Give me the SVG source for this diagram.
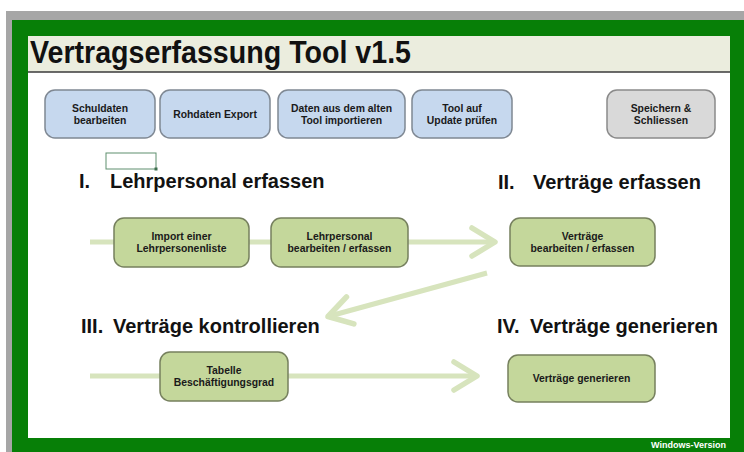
<svg xmlns="http://www.w3.org/2000/svg" width="744" height="452" viewBox="0 0 744 452">
  <style>
    .btn-blue { fill: #C6D8EE; stroke: #7F8893; stroke-width: 1.5; }
    .btn-gray { fill: #D9D9D9; stroke: #8A8A8A; stroke-width: 1.5; }
    .step { fill: #C4D79B; stroke: #76805E; stroke-width: 1.5; }
    .lbl { font-family: "Liberation Sans", Arial, sans-serif; font-weight: bold; font-size: 10.4px; fill: #1A1A1A; text-anchor: middle; }
    .head { font-family: "Liberation Sans", Arial, sans-serif; font-weight: bold; font-size: 20px; fill: #121212; }
    .flow { fill: none; stroke: #D7E4BD; stroke-width: 5; }
  </style>
  <defs>
    <marker id="chevron" markerUnits="userSpaceOnUse" markerWidth="40" markerHeight="40" refX="24" refY="14" orient="auto" overflow="visible">
      <path d="M1,0 L24,14 L1,28" fill="none" stroke="#D7E4BD" stroke-width="5.5" stroke-linejoin="round" stroke-linecap="round"/>
    </marker>
  </defs>

  <!-- window frame -->
  <rect x="0" y="0" width="744" height="452" fill="#FFFFFF"/>
  <rect x="6" y="11" width="738" height="441" fill="#A6A6A6"/>
  <rect x="12" y="20" width="732" height="432" fill="#077F07"/>
  <rect x="28" y="36" width="702" height="402" fill="#FFFFFF"/>

  <!-- title bar -->
  <g id="title">
    <rect x="28" y="36" width="702" height="36" fill="#EBEDDE"/>
    <line x1="28" y1="72" x2="730" y2="72" stroke="#3A3A3A" stroke-width="1.5"/>
    <text x="30" y="63" font-family="Liberation Sans, Arial, sans-serif" font-weight="bold" font-size="32" fill="#111111" textLength="381" lengthAdjust="spacingAndGlyphs">Vertragserfassung Tool v1.5</text>
  </g>

  <!-- toolbar buttons -->
  <g id="btn-schuldaten">
    <rect class="btn-blue" x="45" y="90" width="110" height="48" rx="10"/>
    <text class="lbl" x="100" y="112">Schuldaten</text>
    <text class="lbl" x="100" y="124">bearbeiten</text>
  </g>
  <g id="btn-rohdaten">
    <rect class="btn-blue" x="160" y="90" width="110" height="48" rx="10"/>
    <text class="lbl" x="215" y="118">Rohdaten Export</text>
  </g>
  <g id="btn-import">
    <rect class="btn-blue" x="278" y="90" width="127" height="48" rx="10"/>
    <text class="lbl" x="341.5" y="112">Daten aus dem alten</text>
    <text class="lbl" x="341.5" y="124">Tool importieren</text>
  </g>
  <g id="btn-update">
    <rect class="btn-blue" x="412" y="90" width="100" height="48" rx="10"/>
    <text class="lbl" x="462" y="112">Tool auf</text>
    <text class="lbl" x="462" y="124">Update prüfen</text>
  </g>
  <g id="btn-save">
    <rect class="btn-gray" x="607" y="90" width="108" height="48" rx="10"/>
    <text class="lbl" x="661" y="112">Speichern &amp;</text>
    <text class="lbl" x="661" y="124">Schliessen</text>
  </g>

  <!-- selected empty cell -->
  <g id="cell-selection">
    <rect x="106" y="153" width="50" height="16" fill="none" stroke="#5E8F6E" stroke-width="1"/>
    <rect x="154.5" y="167.5" width="3" height="3" fill="#3E6F4E"/>
  </g>

  <!-- section headings -->
  <g id="heading-1">
    <text class="head" x="79" y="188">I.</text>
    <text class="head" x="110" y="188">Lehrpersonal erfassen</text>
  </g>
  <g id="heading-2">
    <text class="head" x="498" y="189">II.</text>
    <text class="head" x="533" y="189">Verträge erfassen</text>
  </g>
  <g id="heading-3">
    <text class="head" x="81" y="333">III.</text>
    <text class="head" x="113" y="333">Verträge kontrollieren</text>
  </g>
  <g id="heading-4">
    <text class="head" x="497" y="333">IV.</text>
    <text class="head" x="530" y="333">Verträge generieren</text>
  </g>

  <!-- flow connectors -->
  <g id="connectors">
    <line class="flow" x1="90" y1="242" x2="495" y2="242" marker-end="url(#chevron)"/>
    <line class="flow" x1="487" y1="273" x2="328" y2="316.5" marker-end="url(#chevron)"/>
    <line class="flow" x1="90" y1="376" x2="477" y2="376" marker-end="url(#chevron)"/>
  </g>

  <!-- process steps -->
  <g id="step-import">
    <rect class="step" x="114" y="218" width="135" height="49" rx="10"/>
    <text class="lbl" x="181.5" y="240">Import einer</text>
    <text class="lbl" x="181.5" y="252">Lehrpersonenliste</text>
  </g>
  <g id="step-lehrpersonal">
    <rect class="step" x="271" y="218" width="137" height="49" rx="10"/>
    <text class="lbl" x="339.5" y="240">Lehrpersonal</text>
    <text class="lbl" x="339.5" y="252">bearbeiten / erfassen</text>
  </g>
  <g id="step-vertraege">
    <rect class="step" x="510" y="218" width="145" height="48" rx="10"/>
    <text class="lbl" x="582.5" y="240">Verträge</text>
    <text class="lbl" x="582.5" y="252">bearbeiten / erfassen</text>
  </g>
  <g id="step-tabelle">
    <rect class="step" x="160" y="352" width="128" height="49" rx="10"/>
    <text class="lbl" x="224" y="374">Tabelle</text>
    <text class="lbl" x="224" y="386">Beschäftigungsgrad</text>
  </g>
  <g id="step-generieren">
    <rect class="step" x="508" y="355" width="147" height="47" rx="10"/>
    <text class="lbl" x="581.5" y="382">Verträge generieren</text>
  </g>

  <!-- footer -->
  <text x="726" y="448" font-family="Liberation Sans, Arial, sans-serif" font-weight="bold" font-size="9" fill="#FFFFFF" text-anchor="end">Windows-Version</text>
</svg>
